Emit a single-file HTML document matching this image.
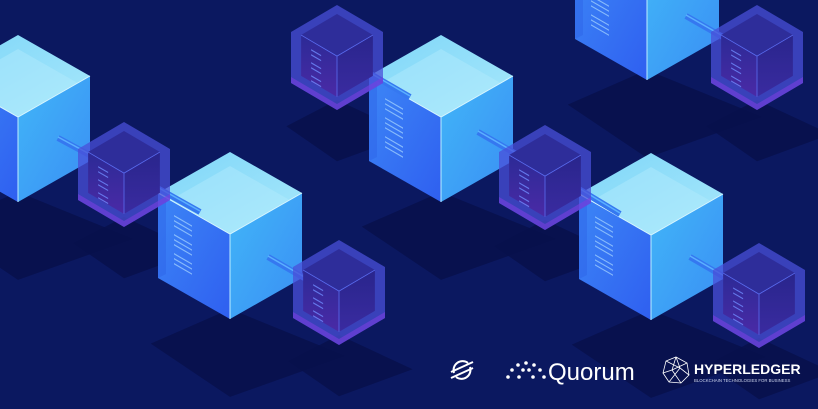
<!DOCTYPE html>
<html><head><meta charset="utf-8"><style>
html,body{margin:0;padding:0;background:#0b1860;width:818px;height:409px;overflow:hidden}
svg{display:block}
</style></head><body>
<svg id="s" width="818" height="409" viewBox="0 0 818 409" xmlns="http://www.w3.org/2000/svg">
<defs>
<linearGradient id="top" x1="0" y1="0" x2="1" y2="1"><stop offset="0" stop-color="#7fd6f8"/><stop offset="1" stop-color="#a8e8fb"/></linearGradient>
<linearGradient id="lf" x1="0" y1="0" x2="1" y2="1"><stop offset="0" stop-color="#3c86f6"/><stop offset="1" stop-color="#2f5ff0"/></linearGradient>
<linearGradient id="rf" x1="0" y1="0" x2="1" y2="1"><stop offset="0" stop-color="#41b6f8"/><stop offset="1" stop-color="#3a8ef4"/></linearGradient>
<linearGradient id="sl" x1="0" y1="0" x2="0" y2="1"><stop offset="0" stop-color="#2c2a96"/><stop offset="1" stop-color="#4a2aa6"/></linearGradient>
<linearGradient id="sr" x1="0" y1="0" x2="0" y2="1"><stop offset="0" stop-color="#29258c"/><stop offset="1" stop-color="#3a2ba0"/></linearGradient>
</defs>
<rect width="818" height="409" fill="#0b1860"/>
<g id="shadows"></g><g id="bigc"></g><g id="bars"></g><g id="smallc"></g>
<g fill="#fff">
<g transform="translate(462,370)" stroke="#fff" stroke-width="2" fill="none">
<path d="M-8,3 A9,9 0 0 1 6,-7"/><path d="M8,-3 A9,9 0 0 1 -6,7"/>
<line x1="-11" y1="2" x2="11" y2="-8"/><line x1="-11" y1="8" x2="11" y2="-2"/>
</g>
<g>
<circle cx="508" cy="377" r="1.8"/><circle cx="512" cy="370" r="1.8"/><circle cx="518" cy="365" r="1.8"/><circle cx="526" cy="363" r="1.8"/><circle cx="534" cy="365" r="1.8"/><circle cx="540" cy="370" r="1.8"/><circle cx="544" cy="377" r="1.8"/>
<circle cx="519" cy="377" r="1.8"/><circle cx="523" cy="370" r="1.8"/><circle cx="529" cy="370" r="1.8"/><circle cx="533" cy="377" r="1.8"/>
</g>
<text x="548" y="380" font-family="Liberation Sans, sans-serif" font-size="24">Quorum</text>
<g transform="translate(676,370)" stroke="#fff" stroke-width="0.8" fill="none">
<polygon points="0,-13 11,-7 13,5 5,13 -7,12 -13,3 -10,-9"/>
<path d="M0,-13 L-4,0 L5,13 M-13,3 L-4,0 L11,-7 M-10,-9 L4,-2 L-7,12 M13,5 L4,-2 L0,-13"/>
</g>
<text x="694" y="374" font-family="Liberation Sans, sans-serif" font-size="14" font-weight="bold">HYPERLEDGER</text>
<text x="694" y="382" font-family="Liberation Sans, sans-serif" font-size="4.3" fill="#cfd6ee">BLOCKCHAIN TECHNOLOGIES FOR BUSINESS</text>
</g>
</svg>
<script>
var NS="http://www.w3.org/2000/svg";
function el(p,t,a){var e=document.createElementNS(NS,t);for(var k in a)e.setAttribute(k,a[k]);document.getElementById(p).appendChild(e);return e;}
function pts(a){return a.map(function(p){return p[0]+","+p[1]}).join(" ");}
function cube(x,y,w,s,h,big){
 var T=[x,y],R=[x+w,y+s],C=[x,y+2*s],L=[x-w,y+s],RB=[x+w,y+s+h],B=[x,y+2*s+h],LB=[x-w,y+s+h];
 el("shadows","polygon",{points:pts([[x,y+2*s+h-10],[x+w*1.6,y+2*s+h+s*0.9],[x,y+2*s+h+s*1.9],[x-w*1.1,y+2*s+h+s*0.6]]),fill:"#08114c",opacity:"0.9"});
 if(big){
  var g="bigc";
  el(g,"polygon",{points:pts([T,R,C,L]),fill:"url(#top)"});
  el(g,"polygon",{points:pts([L,C,B,LB]),fill:"url(#lf)"});
  el(g,"polygon",{points:pts([C,R,RB,B]),fill:"url(#rf)"});
  var k=0.82,ix=w*k,is=s*k;
  el(g,"polygon",{points:pts([[x,y+14],[x+ix,y+14+is],[x,y+14+2*is],[x-ix,y+14+is]]),fill:"#b4ecfc",opacity:"0.45"});
  el(g,"polygon",{points:pts([[x-w,y+s],[x-w+8,y+s+4],[x-w+8,y+s+h-4],[x-w,y+s+h]]),fill:"#2d63e8",opacity:"0.5"});
  el(g,"polyline",{points:pts([L,C,R]),fill:"none",stroke:"#d8f6ff","stroke-width":"1"});
  el(g,"line",{x1:C[0],y1:C[1],x2:B[0],y2:B[1],stroke:"#bdeeff","stroke-width":"1"});
  for(var i=0;i<9;i++){var yy=y+s+22+i*5+(i>2?4:0)+(i>5?4:0);el(g,"rect",{x:x-w+16,y:yy,width:18,height:1.3,fill:"#a9d8ff",opacity:"0.7",transform:"skewY(30) translate(0,"+(-(x-w+16)*0.577)+")"});}
 }else{
  var g="smallc";
  el(g,"polygon",{points:pts([T,R,RB,B,LB,L]),fill:"#4a4fd8",opacity:"0.75"});
  var k=0.78,ix=w*k,is=s*k,ih=h*0.8,y0=y+9;
  var t2=[x,y0],r2=[x+ix,y0+is],c2=[x,y0+2*is],l2=[x-ix,y0+is],rb=[x+ix,y0+is+ih],b2=[x,y0+2*is+ih],lb=[x-ix,y0+is+ih];
  el(g,"polygon",{points:pts([t2,r2,c2,l2]),fill:"#2e2d9a"});
  el(g,"polygon",{points:pts([l2,c2,b2,lb]),fill:"url(#sl)"});
  el(g,"polygon",{points:pts([c2,r2,rb,b2]),fill:"url(#sr)"});
  el(g,"polyline",{points:pts([l2,c2,r2]),fill:"none",stroke:"#5a6cf0","stroke-width":"0.8"});
  el(g,"line",{x1:c2[0],y1:c2[1],x2:b2[0],y2:b2[1],stroke:"#5a6cf0","stroke-width":"0.8"});
  el(g,"polygon",{points:pts([LB,B,RB,[x+w,RB[1]-6],[x,B[1]-6],[x-w,LB[1]-6]]),fill:"#7a3ee0",opacity:"0.6"});
  for(var i=0;i<6;i++){var xx=x-ix+10;el(g,"rect",{x:xx,y:y0+is+14+i*5+(i>1?3:0)+(i>3?3:0),width:10,height:1.3,fill:"#6f8cff",opacity:"0.8",transform:"skewY(30) translate(0,"+(-xx*0.577)+")"});}
 }
}
function bar(x1,y1,x2,y2){el("bars","line",{x1:x1,y1:y1,x2:x2,y2:y2,stroke:"#3578f0","stroke-width":"6","stroke-linecap":"butt"});el("bars","line",{x1:x1,y1:y1-1,x2:x2,y2:y2-1,stroke:"#5ab0ff","stroke-width":"1.5"});}
bar(58,138,110,166);bar(150,184,200,212);bar(268,257,320,287);
bar(360,68,410,97);bar(478,132,530,162);bar(572,185,620,214);
bar(686,16,735,44);bar(690,257,740,286);
var B=[72,41,85],S=[46,27,51];
[[18,35],[230,152],[441,35],[651,153],[647,-87]].forEach(function(p){cube(p[0],p[1],B[0],B[1],B[2],true);});
[[124,122],[339,240],[337,5],[545,125],[757,5],[759,243]].forEach(function(p){cube(p[0],p[1],S[0],S[1],S[2],false);});
</script>
</body></html>
